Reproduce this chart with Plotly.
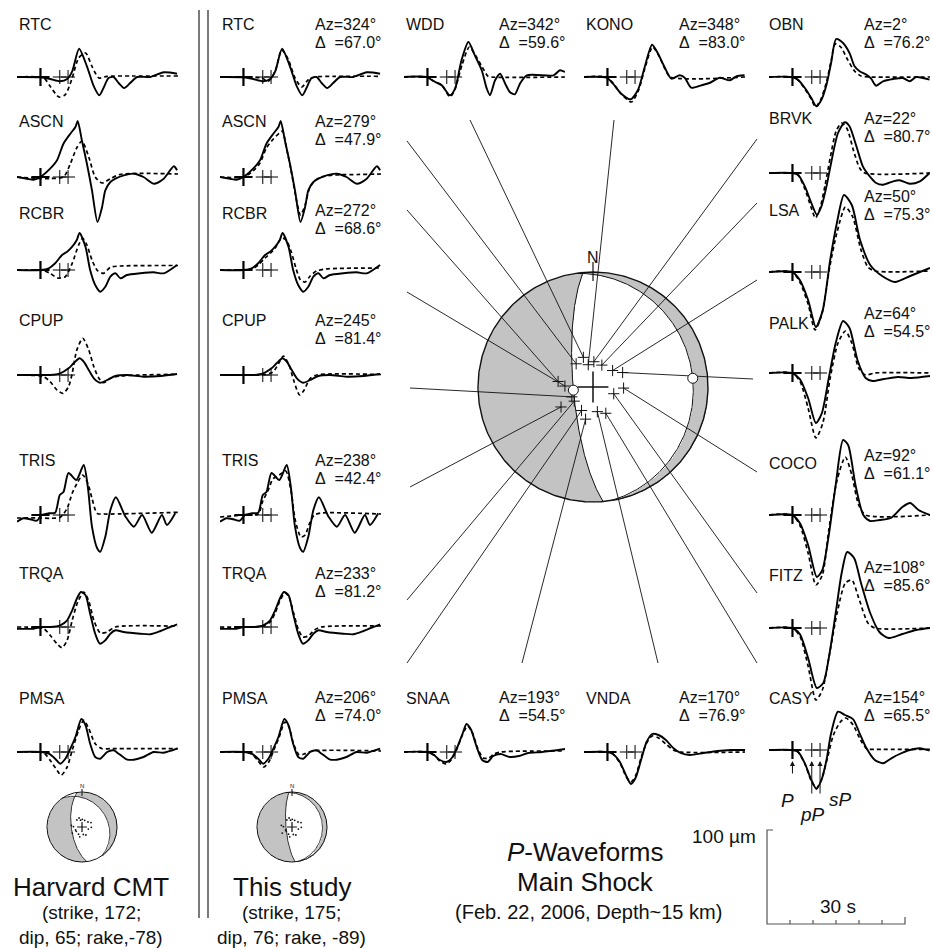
import numpy as np
import plotly.graph_objects as go

W, H = 933, 950
FONT = "Liberation Sans, Arial, Helvetica, sans-serif"
GRAY = "#c3c3c3"

# ---------------- data ----------------
STATIONS = ["RTC", "ASCN", "RCBR", "CPUP", "TRIS", "TRQA", "PMSA", "WDD", "KONO",
            "SNAA", "VNDA", "OBN", "BRVK", "LSA", "PALK", "COCO", "FITZ", "CASY"]
AZIMUTH = [324, 279, 272, 245, 238, 233, 206, 342, 348, 193, 170, 2, 22, 50, 64, 92, 108, 154]
DISTANCE = [67.0, 47.9, 68.6, 81.4, 42.4, 81.2, 74.0, 59.6, 83.0, 54.5, 76.9, 76.2, 80.7,
            75.3, 54.5, 61.1, 85.6, 65.5]
TAKEOFF = [20.3, 25.1, 19.9, 16.5, 26.8, 16.6, 18.5, 22.1, 16.1, 23.4, 17.7, 17.9, 16.7,
           18.1, 23.4, 21.7, 15.4, 20.7]

CMT_SDR = (172, 65, -78)
STUDY_SDR = (175, 76, -89)

T_P, T_PP, T_SP = 5.1, 9.3, 11.1     # s after window start
T_WINDOW = 35.0                       # s
SCALE_T, SCALE_TICK = 30, 5           # s
SCALE_AMP = 100                       # um

# waveforms: (time s, amplitude) knots
RTC_obs = [(0, 0), (5.1, -0.3), (7.2, -2), (9.4, -4.3), (10.9, -2), (12.0, 5.7), (13.5, 28.3), (15.2, 10.7),
           (16.7, -9.3), (17.9, -18.3), (18.8, -11), (19.9, -1), (21.0, 0), (22.1, -6), (23.3, -11),
           (24.6, -6), (26.1, 0), (29.0, 0), (31.9, 4.7), (34.8, 3.3)]
RTC_cmt = [(0, 0), (5.8, -1), (7.2, -9.3), (9.1, -20), (10.5, -17.7), (12.0, -1), (13.4, 19), (14.9, 24),
           (16.3, 10.7), (17.8, -1), (19.6, 0.7), (25, 1), (35, 1)]
RTC_syn = [(0, 0), (9.1, -1), (10.5, -4.3), (12.0, 5.7), (13.4, 27), (14.9, 17), (16.3, -1), (17.8, -10),
           (19.2, -2.7), (20.7, 0), (25, 0.7), (35, 0.7)]

ASCN_obs = [(0, 0), (2.2, -1.7), (3.6, -2.7), (5.1, 0), (7.2, 8.3), (8.7, 16.7), (10.1, 33.3), (11.6, 43.3),
            (12.7, 50), (13.2, 56), (14.1, 36.7), (15.2, 13.3), (16.3, -13.3), (17.5, -45), (18.5, -30),
            (19.2, -13.3), (20.3, -5), (21.4, -1.7), (23.2, 1.7), (25.4, 3.3), (27.5, 0), (29.7, -6.7),
            (31.9, -1.7), (34.1, 10.7), (34.8, 6.7)]
ASCN_cmt = [(0, 0), (5.1, -1.5), (7.2, -1.5), (10.1, 0), (11.6, 13.3), (12.9, 28.3), (14.1, 36), (15.6, 20),
            (17.0, 0), (18.5, -6), (20.3, -1.7), (22.5, 2.7), (35, 3)]
ASCN_syn = [(0, 0), (5.1, 0), (7.2, 6), (8.7, 14), (10.1, 29), (11.6, 38), (12.9, 44), (13.6, 46), (14.4, 30),
            (15.4, 8), (16.4, -18), (17.5, -38), (18.5, -28), (19.4, -12), (20.5, -4), (22, 0), (25, 2),
            (30, 2.5), (35, 3)]

RCBR_obs = [(0, 0), (5.1, 0), (6.9, 1.7), (8.3, 6.7), (9.8, 15), (10.9, 18.3), (12.0, 23.3), (13.0, 30),
            (13.6, 37), (14.9, 23), (15.9, 0), (17.0, -15), (18.1, -21.7), (19.2, -16.7), (20.3, -6.7),
            (21.4, -3.3), (22.5, -8.3), (23.9, -5), (26.8, -3.3), (29.7, -2.3), (31.9, -3.3), (34.8, 5)]
RCBR_cmt = [(0, 0), (5.8, -0.7), (7.2, -3.3), (8.8, -8), (10.5, -6.7), (12.0, 6.7), (13.4, 25), (14.3, 31.7),
            (15.2, 25), (16.3, 10), (17.5, -0.7), (18.8, -3.3), (20.3, 2.7), (22.5, 4), (35, 4.5)]
RCBR_syn = [(0, 0), (5.1, 0), (7.0, 1), (8.3, 5), (9.8, 12), (11.0, 17), (12.0, 22), (13.4, 32), (14.4, 30),
            (15.5, 18), (16.5, 2), (17.5, -10), (18.5, -12), (19.6, -6), (21, -1), (23, 1), (35, 2)]

CPUP_obs = [(0, 0), (5.1, 0), (7.2, 0), (9.4, 1.7), (11.2, 6.7), (12.3, 11.7), (13.6, 16.7), (14.5, 13.3),
            (15.6, 5), (16.7, -3.3), (18.1, -7.7), (19.6, -5), (21.4, -1), (23.9, 0), (27.5, -1.7),
            (31.2, -1), (34.8, 1)]
CPUP_cmt = [(0, 0), (5.8, -1.7), (7.2, -6.7), (8.7, -15), (10.0, -18.3), (11.2, -11.7), (12.0, 1.7),
            (13.0, 25), (14.3, 36.7), (15.6, 25), (16.7, 8.3), (17.8, -3.3), (18.8, -7.7), (20.3, -3.3),
            (22.5, -1), (34.8, 0.7)]
CPUP_syn = [(0, 0), (5.1, 0), (9.0, 0), (11.5, 3), (12.8, 12), (13.8, 19), (15.0, 10), (16.0, -5),
            (17.3, -20), (18.3, -15), (19.5, -4), (21, 0), (35, 0.5)]

TRIS_obs = [(0, -6.7), (1.4, -3.3), (2.9, -4.3), (4.3, -5.7), (5.4, 0), (6.9, 1.7), (8.3, 2.3), (9.3, 20),
            (10.1, 23), (11.2, 42), (12.9, 35), (14.5, 50), (15.4, 28), (16.3, -11.7), (17.4, -33),
            (18.1, -36.7), (19.2, -21.7), (20.3, 5), (21.5, 17.7), (23.6, -1.7), (25.4, -11.7), (27.2, 0),
            (29.3, -17.7), (31.5, 0), (32.6, -10), (34.4, 1.7)]
TRIS_cmt = [(0, -3), (5.1, -3), (7.2, -3.3), (9.4, -2.3), (10.9, 6.7), (12.0, 21.7), (13.2, 33), (14.3, 40),
            (15.4, 31.7), (16.3, 16.7), (17.4, 1.7), (18.8, 1), (35, 2.7)]
TRIS_syn = [(0, -2), (5.1, 0), (8.3, 1), (9.3, 14), (10.5, 25), (11.5, 36), (12.9, 40), (14.3, 44),
            (15.4, 25), (16.4, -6), (17.6, -22), (18.5, -20), (19.5, -8), (20.5, 0), (22, 2), (35, 1)]

TRQA_obs = [(0, -1.7), (3.6, -1.7), (5.1, 0), (7.2, 0), (9.4, 1.7), (10.9, 6.7), (12.0, 16.7), (13.0, 28.3),
            (13.9, 35), (14.9, 31.7), (15.9, 13.3), (17.0, -6.7), (18.0, -16.7), (19.2, -13.3),
            (20.3, -6.7), (21.4, -3.3), (23.2, -5), (26.8, -6.7), (29.0, -7.3), (31.2, -4), (33.3, 0),
            (34.8, 2.7)]
TRQA_cmt = [(0, 0), (5.8, -1.7), (7.2, -8.3), (8.7, -16.7), (9.8, -20.7), (10.9, -13.3), (12.0, 6.7),
            (13.2, 25), (14.5, 35), (15.6, 26), (16.7, 6.7), (18.1, -6), (19.6, -5), (21.4, 0), (35, 0.7)]
TRQA_syn = [(0, 0), (5.1, 0), (9.4, 1), (10.9, 5), (12.0, 14), (13.0, 26), (14.1, 34), (15.0, 30),
            (16.0, 14), (17.0, -2), (18.0, -10), (19.2, -9), (20.5, -3), (22, 0), (35, 1)]

PMSA_obs = [(0, 0), (5.1, 0), (6.9, -1.7), (8.3, -6.7), (9.4, -11.7), (10.5, -6.7), (11.6, 3.3), (12.7, 15),
            (14.0, 33), (14.9, 26.7), (15.9, 8.3), (17.0, -5), (18.1, -6.7), (19.6, 0), (21.0, 1.7),
            (22.1, -1.7), (23.8, -7.3), (25.4, -7.7), (27.5, -5), (29.7, 0), (31.9, -0.7), (34.8, 3.3)]
PMSA_cmt = [(0, 0), (5.8, -1), (7.2, -8.3), (8.7, -18.3), (9.6, -23.3), (10.9, -15), (12.0, 1.7),
            (13.4, 21.7), (14.5, 31.7), (15.6, 23.3), (17.0, 8.3), (18.5, 3.3), (20.3, 3.3), (35, 3.3)]
PMSA_syn = [(0, 0), (5.1, 0), (6.9, -2), (8.3, -9), (9.5, -15), (10.6, -10), (11.7, 2), (12.8, 14),
            (14.1, 30), (15.0, 25), (16.0, 8), (17.2, -3), (18.3, -2), (20, 1), (35, 1)]

WDD_obs = [(0, 0), (4.9, 0), (6.4, -4), (8.2, -8.3), (10.0, -18.3), (11.1, -11.7), (12.5, 16.7), (14.0, 35),
           (15.4, 21.7), (16.9, 6.7), (18.0, -11.7), (18.7, -18.3), (19.8, -3.3), (20.9, 3.3), (22.0, -6.7),
           (23.0, -15), (24.1, -17.3), (25.2, -6.7), (26.7, 1.7), (32.5, 1.7), (33.9, 6.7), (35, 5)]
WDD_syn = [(0, 0), (4.9, 0), (6.4, -4), (8.2, -8), (10.0, -20), (11.1, -12), (12.6, 12), (14.2, 30),
           (15.5, 22), (17.0, 10), (18.2, 1), (19.0, 0), (35, 0)]

KONO_obs = [(0, 0), (4.9, -0.7), (6.3, -6.7), (8.1, -16.7), (10.1, -22.3), (11.7, -13.3), (13.2, 10),
            (14.8, 32.3), (16.1, 23.3), (17.5, 10), (19.0, -1.7), (20.8, 1.7), (21.9, -0.7), (23.3, -10.7),
            (25.5, -8.3), (27.3, -6), (29.5, -0.7), (31.7, -3.3), (33.1, 0.7), (34.9, 1.7)]
KONO_syn = [(0, 0), (4.9, 0), (6.3, -6), (8.1, -17), (10.3, -25), (11.8, -14), (13.2, 8), (14.9, 30),
            (16.2, 22), (17.6, 8), (18.8, 0), (35, 0)]

SNAA_obs = [(0, 0), (5.1, 0), (6.5, -3), (7.8, -8), (9.2, -10), (10.4, -6), (11.6, 5), (12.7, 18), (13.6, 28),
            (14.6, 22), (15.8, 5), (17.0, -8), (18.2, -10), (19.4, -4), (21, -2), (23, -5), (25, -4),
            (27, -1), (30, 0), (35, 3)]
SNAA_syn = [(0, 0), (5.1, 0), (6.5, -3), (7.8, -9), (9.2, -12), (10.4, -7), (11.6, 4), (12.7, 17),
            (13.8, 26), (14.8, 20), (16.0, 4), (17.2, -6), (18.4, -6), (19.6, -2), (21, 0), (35, 1)]

VNDA_obs = [(0, 0), (5.1, 0), (6.3, -2), (7.8, -10), (9.2, -24), (10.2, -32), (11.2, -26), (12.4, -8),
            (13.6, 10), (14.8, 18), (16.2, 17), (17.8, 12), (19.4, 4), (21, -1), (23, -3), (26, -1),
            (29, 1), (32, 2), (35, 2)]
VNDA_syn = [(0, 0), (5.1, 0), (6.3, -2), (7.8, -11), (9.2, -25), (10.2, -30), (11.2, -24), (12.4, -6),
            (13.6, 9), (14.8, 16), (16.2, 14), (17.8, 8), (19.4, 2), (21, 0), (35, 0)]

OBN_obs = [(0, 0), (4.9, 0), (6.3, -2.7), (7.8, -11), (9.2, -21), (10.3, -29.3), (11.4, -22.7), (12.5, -7.7),
           (13.5, 14), (14.6, 38), (16.1, 34), (17.5, 24), (18.6, 10.7), (19.7, 5.7), (21.2, 2.3),
           (22.2, -1.7), (23.3, -8.7), (24.8, -4.3), (27.0, -2), (29.1, -1), (30.6, -4.3), (32.0, 0),
           (34.9, -2.7)]
OBN_syn = [(0, 0), (4.9, 0), (6.3, -3), (7.8, -12), (9.2, -22), (10.1, -30), (11.3, -22), (12.5, -5),
           (13.5, 16), (14.4, 33), (15.6, 30), (17.0, 18), (18.6, 6), (20, 1), (22, 0), (35, 0)]

BRVK_obs = [(0, 0), (4.9, 0), (6.3, -1.7), (7.8, -13.3), (9.2, -30), (10.4, -41.7), (11.4, -33.3),
            (12.5, -13.3), (13.5, 10), (15.0, 40), (16.5, 50.7), (17.5, 46.7), (19.0, 26.7), (20.4, 6.7),
            (21.9, -3.3), (23.3, -10), (24.8, -11.7), (27.0, -8.3), (28.4, -7.3), (30.6, -10.7),
            (32.8, -8.3), (34.9, 0)]
BRVK_syn = [(0, 0), (4.9, 0), (6.3, -2), (7.8, -16), (9.2, -35), (10.1, -45), (11.1, -35), (12.2, -12),
            (13.3, 15), (14.6, 42), (15.8, 50), (17.0, 44), (18.4, 22), (19.7, 5), (20.8, 0), (35, 0)]

LSA_obs = [(0, 0), (5.0, 0), (6.7, -8), (8.5, -28), (10.2, -55), (11.7, -38), (13.3, 12), (14.8, 50),
           (16.3, 77), (18.0, 67), (19.8, 32), (22.0, 7), (24.6, -4), (27.4, -10), (30.7, -4), (35, 4)]
LSA_syn = [(0, 0), (5.0, 0), (6.7, -10), (8.5, -32), (10.0, -58), (11.5, -42), (13.2, 5), (14.8, 40),
           (16.6, 65), (18.2, 55), (20.0, 22), (21.5, 5), (23, 1), (35, 1)]

PALK_obs = [(0, 0), (5.0, 0), (6.7, -6), (8.5, -25), (10.2, -50), (11.5, -40), (13.0, -5), (14.5, 30),
            (16.1, 52), (17.5, 45), (19.3, 12), (21.0, -5), (22.5, -8), (25, -6), (28, -4), (31, -5), (35, -3)]
PALK_syn = [(0, 0), (5.0, 0), (6.7, -8), (8.5, -35), (10.2, -65), (11.7, -50), (13.3, -5), (15.0, 30),
            (16.6, 42), (18.0, 30), (19.5, 5), (21, -2), (23, 0), (35, 0)]

COCO_obs = [(0, 0), (5.0, 0), (6.7, -8), (8.5, -30), (10.4, -62), (11.6, -55), (13.0, -20), (14.5, 30),
            (16.1, 75), (17.2, 70), (18.8, 30), (20.5, 0), (22, -6), (24, -5), (26.5, -3), (29, 8),
            (30.7, 12), (32.5, 5), (35, 0)]
COCO_syn = [(0, 0), (5.0, 0), (6.7, -10), (8.5, -38), (10.2, -70), (11.6, -60), (13.0, -15), (14.8, 35),
            (16.6, 58), (18.0, 40), (19.5, 10), (21, 0), (35, 0)]

FITZ_obs = [(0, 0), (5.0, 0), (6.7, -6), (8.5, -30), (10.4, -60), (11.8, -55), (13.0, -30), (14.5, 15),
            (15.8, 55), (17.0, 76), (18.5, 70), (20, 45), (22, 15), (24, -4), (26, -10), (29, -6),
            (32, -2), (35, 0)]
FITZ_syn = [(0, 0), (5.0, 0), (6.7, -8), (8.5, -38), (10.2, -72), (11.6, -62), (13.0, -30), (14.8, 15),
            (16.6, 45), (18.0, 48), (19.5, 30), (21.5, 5), (23, 0), (35, 0)]

CASY_obs = [(0, 0), (4.9, 0), (6.3, -1.7), (7.8, -13.3), (9.2, -30), (10.3, -39), (11.4, -30), (12.5, -10),
            (13.5, 16.7), (15.0, 38.3), (16.5, 35), (18.3, 30.7), (19.7, 16.7), (21.2, 1.7), (23.0, -10),
            (24.8, -13.3), (26.6, -8.3), (28.4, -4), (30.6, 0), (32.8, 1.7), (34.9, -0.7)]
CASY_syn = [(0, 0), (4.9, 0), (6.3, -2), (7.8, -14), (9.2, -31), (10.3, -38), (11.4, -30), (12.7, -8),
            (14.0, 15), (15.5, 28), (16.7, 32), (18.3, 25), (19.9, 10), (21.3, 1), (23, 0.7), (35, 0.7)]

OBS = {"RTC": RTC_obs, "ASCN": ASCN_obs, "RCBR": RCBR_obs, "CPUP": CPUP_obs, "TRIS": TRIS_obs,
       "TRQA": TRQA_obs, "PMSA": PMSA_obs, "WDD": WDD_obs, "KONO": KONO_obs, "SNAA": SNAA_obs,
       "VNDA": VNDA_obs, "OBN": OBN_obs, "BRVK": BRVK_obs, "LSA": LSA_obs, "PALK": PALK_obs,
       "COCO": COCO_obs, "FITZ": FITZ_obs, "CASY": CASY_obs}
SYN = {"RTC": RTC_syn, "ASCN": ASCN_syn, "RCBR": RCBR_syn, "CPUP": CPUP_syn, "TRIS": TRIS_syn,
       "TRQA": TRQA_syn, "PMSA": PMSA_syn, "WDD": WDD_syn, "KONO": KONO_syn, "SNAA": SNAA_syn,
       "VNDA": VNDA_syn, "OBN": OBN_syn, "BRVK": BRVK_syn, "LSA": LSA_syn, "PALK": PALK_syn,
       "COCO": COCO_syn, "FITZ": FITZ_syn, "CASY": CASY_syn}
CMT = {"RTC": RTC_cmt, "ASCN": ASCN_cmt, "RCBR": RCBR_cmt, "CPUP": CPUP_cmt, "TRIS": TRIS_cmt,
       "TRQA": TRQA_cmt, "PMSA": PMSA_cmt}
AZ = dict(zip(STATIONS, AZIMUTH))
DIST = dict(zip(STATIONS, DISTANCE))
TOA = dict(zip(STATIONS, TAKEOFF))

# ---------------- layout (pixels) ----------------
PX_PER_S = 4.6
LEFT_ROWS = ["RTC", "ASCN", "RCBR", "CPUP", "TRIS", "TRQA", "PMSA"]
LEFT_BASE = [77, 177, 270, 375, 515, 627, 752]
LEFT_LABEL_Y = [24, 121, 213, 320, 460, 573, 698]
STUDY_AZ_Y = [24, 121, 210, 320, 460, 573, 697]
RIGHT_ROWS = ["OBN", "BRVK", "LSA", "PALK", "COCO", "FITZ", "CASY"]
RIGHT_BASE = [77, 173, 272, 373, 515, 628, 750]
RIGHT_LABEL_Y = [24, 118, 210, 323, 463, 575, 698]
RIGHT_AZ_Y = [24, 118, 196, 313, 455, 567, 697]
X_CMT, X_STUDY, X_C1, X_C2, X_RIGHT = 17, 220, 404, 584, 769
AZX_STUDY, AZX_C1, AZX_C2, AZX_RIGHT = 313, 497, 677, 862
BALL = (593, 387, 115)
BALL_CMT = (82, 827, 35)
BALL_STUDY = (292, 827, 35)
RAY_END = {"PMSA": (407, 663), "TRQA": (407, 600), "TRIS": (410, 487), "CPUP": (410, 388),
           "RCBR": (407, 292), "ASCN": (407, 210), "RTC": (407, 141), "WDD": (470, 120),
           "KONO": (614, 120), "OBN": (757, 139), "BRVK": (757, 203), "LSA": (757, 280),
           "PALK": (753, 379), "COCO": (757, 472), "FITZ": (757, 593), "CASY": (757, 663),
           "VNDA": (658, 663), "SNAA": (522, 663)}

# panels: station, x0, baseline, synthetic, label (x,y), az text (x,y) or None
panels = []
for s, b, ly, ay in zip(LEFT_ROWS, LEFT_BASE, LEFT_LABEL_Y, STUDY_AZ_Y):
    panels.append((s, X_CMT, b, CMT[s], (X_CMT, ly), None))
    panels.append((s, X_STUDY, b, SYN[s], (X_STUDY, ly), (AZX_STUDY, ay)))
for s, x0, b, ly, ax in [("WDD", X_C1, 77, 24, AZX_C1), ("KONO", X_C2, 77, 24, AZX_C2),
                         ("SNAA", X_C1, 752, 698, AZX_C1), ("VNDA", X_C2, 752, 698, AZX_C2)]:
    panels.append((s, x0, b, SYN[s], (x0, ly), (ax, ly if ly == 24 else 697)))
for s, b, ly, ay in zip(RIGHT_ROWS, RIGHT_BASE, RIGHT_LABEL_Y, RIGHT_AZ_Y):
    panels.append((s, X_RIGHT, b, SYN[s], (X_RIGHT - 2, ly), (AZX_RIGHT, ay)))

fig = go.Figure()
axes = {
    "xaxis": dict(domain=[0, 1], range=[0, W], visible=False, fixedrange=True),
    "yaxis": dict(domain=[0, 1], range=[H, 0], visible=False, fixedrange=True),
}
ann = []


def txt(x, y, s, size=16, xanchor="left"):
    ann.append(dict(x=x, y=y, xref="x", yref="y", text=s, showarrow=False, xanchor=xanchor,
                    yanchor="middle", font=dict(family=FONT, size=size, color="#111111")))


for k, (s, x0, base, syn, lab, azpos) in enumerate(panels):
    i = k + 2
    top, bot = max(base - 95, 0), min(base + 95, H)
    axes[f"xaxis{i}"] = dict(domain=[x0 / W, (x0 + T_WINDOW * PX_PER_S) / W], range=[0, T_WINDOW],
                             visible=False, anchor=f"y{i}", fixedrange=True)
    axes[f"yaxis{i}"] = dict(domain=[1 - bot / H, 1 - top / H], range=[-(bot - base), base - top],
                             visible=False, anchor=f"x{i}", fixedrange=True)
    for knots, dash, wdt in [(syn, "4px,3px", 1.7), (OBS[s], "solid", 1.9)]:
        fig.add_trace(go.Scatter(x=[p[0] for p in knots], y=[p[1] for p in knots], mode="lines",
                                 line=dict(color="black", width=wdt, dash=dash, shape="spline", smoothing=0.7),
                                 xaxis=f"x{i}", yaxis=f"y{i}", hoverinfo="skip", showlegend=False))
    fig.add_trace(go.Scatter(x=[T_P], y=[0], mode="markers", xaxis=f"x{i}", yaxis=f"y{i}",
                             marker=dict(symbol="cross-thin", size=13, line=dict(color="black", width=2.2)),
                             hoverinfo="skip", showlegend=False))
    fig.add_trace(go.Scatter(x=[T_PP, T_SP], y=[0, 0], mode="markers", xaxis=f"x{i}", yaxis=f"y{i}",
                             marker=dict(symbol="cross-thin", size=10, line=dict(color="black", width=1)),
                             hoverinfo="skip", showlegend=False))
    txt(lab[0], lab[1], s)
    if azpos is not None:
        txt(azpos[0], azpos[1], f"Az={AZ[s]}°")
        txt(azpos[0], azpos[1] + 18, f"Δ\u00a0\u00a0={DIST[s]:.1f}°")


# ---------------- focal mechanisms ----------------
def sdr_vectors(strike, dip, rake):
    f, d, l = np.radians([strike, dip, rake])
    n = np.array([-np.sin(d) * np.sin(f), np.sin(d) * np.cos(f), -np.cos(d)])
    sl = np.array([np.cos(l) * np.cos(f) + np.sin(l) * np.cos(d) * np.sin(f),
                   np.cos(l) * np.sin(f) - np.sin(l) * np.cos(d) * np.cos(f),
                   -np.sin(l) * np.sin(d)])
    return n, sl


def proj(v):
    v = np.asarray(v, float)
    v = v / np.linalg.norm(v)
    if v[2] < 0:
        v = -v
    th = np.arccos(np.clip(v[2], -1, 1))
    r = np.sqrt(2) * np.sin(th / 2)
    az = np.arctan2(v[1], v[0])
    return r * np.sin(az), r * np.cos(az)


def proj_station(az, toa):
    r = np.sqrt(2) * np.sin(np.radians(toa) / 2)
    return r * np.sin(np.radians(az)), r * np.cos(np.radians(az))


def plane_arc(m):
    m = m / np.linalg.norm(m)
    e1 = np.cross(m, [0, 0, 1.0])
    e1 /= np.linalg.norm(e1)
    e2 = np.cross(m, e1)
    if e2[2] < 0:
        e2 = -e2
    pts = [proj(np.cos(t) * e1 + np.sin(t) * e2) for t in np.linspace(0, np.pi, 241)]
    return np.array(pts)


def draw_ball(ball, sdr, lw_c, lw_p):
    cx, cy, R = ball
    n, sl = sdr_vectors(*sdr)
    g = np.arange(-R, R + 1)
    U, N = np.meshgrid(g / R, -g / R)
    r = np.hypot(U, N)
    th = 2 * np.arcsin(np.clip(r / np.sqrt(2), 0, 1))
    az = np.arctan2(U, N)
    vN, vE, vD = np.sin(th) * np.cos(az), np.sin(th) * np.sin(az), np.cos(th)
    amp = (vN * n[0] + vE * n[1] + vD * n[2]) * (vN * sl[0] + vE * sl[1] + vD * sl[2])
    z = np.where((r <= 1.0) & (amp > 0), 1.0, np.nan)
    zl = [[None if np.isnan(v) else 1 for v in row] for row in z]
    fig.add_trace(go.Heatmap(x=cx + g, y=cy + g, z=zl, colorscale=[[0, GRAY], [1, GRAY]], zmin=0, zmax=1,
                             showscale=False, hoverinfo="skip", xaxis="x", yaxis="y"))
    for m in (n, sl):
        a = plane_arc(m)
        fig.add_trace(go.Scatter(x=cx + R * a[:, 0], y=cy - R * a[:, 1], mode="lines",
                                 line=dict(color="#111", width=lw_p), hoverinfo="skip", showlegend=False,
                                 xaxis="x", yaxis="y"))
    t = np.linspace(0, 2 * np.pi, 361)
    fig.add_trace(go.Scatter(x=cx + R * np.sin(t), y=cy - R * np.cos(t), mode="lines",
                             line=dict(color="#111", width=lw_c), hoverinfo="skip", showlegend=False,
                             xaxis="x", yaxis="y"))
    return n, sl


cx, cy, R = BALL
n_s, s_s = draw_ball(BALL, STUDY_SDR, 1.4, 1.0)
# rays to waveform panels
rx, ry, px, py = [], [], [], []
for s in STATIONS:
    e, nn = proj_station(AZ[s], TOA[s])
    x1, y1 = cx + R * e, cy - R * nn
    px.append(x1); py.append(y1)
    x2, y2 = RAY_END[s]
    rx += [x1, x2, None]; ry += [y1, y2, None]
fig.add_trace(go.Scatter(x=rx, y=ry, mode="lines", line=dict(color="#111", width=0.9),
                         hoverinfo="skip", showlegend=False, xaxis="x", yaxis="y"))
fig.add_trace(go.Scatter(x=px, y=py, mode="markers", hoverinfo="skip", showlegend=False, xaxis="x", yaxis="y",
                         marker=dict(symbol="cross-thin", size=8, line=dict(color="#111", width=1))))
fig.add_trace(go.Scatter(x=[cx], y=[cy], mode="markers", hoverinfo="skip", showlegend=False, xaxis="x", yaxis="y",
                         marker=dict(symbol="cross-thin", size=22, line=dict(color="#111", width=1.5))))
pole = [proj(v) for v in (n_s, s_s)]
fig.add_trace(go.Scatter(x=[cx + R * p[0] for p in pole], y=[cy - R * p[1] for p in pole], mode="markers",
                         hoverinfo="skip", showlegend=False, xaxis="x", yaxis="y",
                         marker=dict(symbol="circle", size=10, color="white", line=dict(color="#111", width=1))))
fig.add_trace(go.Scatter(x=[cx, cx], y=[cy - R - 10, cy - R + 9], mode="lines", line=dict(color="#111", width=1.2),
                         hoverinfo="skip", showlegend=False, xaxis="x", yaxis="y"))
txt(cx, cy - R - 15, "N", 16, "center")

for ball, sdr in [(BALL_CMT, CMT_SDR), (BALL_STUDY, STUDY_SDR)]:
    bx, by, br = ball
    draw_ball(ball, sdr, 1.0, 0.8)
    sx, sy = [], []
    for s in STATIONS:
        e, nn = proj_station(AZ[s], TOA[s])
        sx.append(bx + br * e); sy.append(by - br * nn)
    fig.add_trace(go.Scatter(x=sx, y=sy, mode="markers", hoverinfo="skip", showlegend=False, xaxis="x", yaxis="y",
                             marker=dict(symbol="circle", size=1.8, color="#111")))
    fig.add_trace(go.Scatter(x=[bx], y=[by], mode="markers", hoverinfo="skip", showlegend=False, xaxis="x",
                             yaxis="y", marker=dict(symbol="cross-thin", size=7, line=dict(color="#111", width=1.2))))
    fig.add_trace(go.Scatter(x=[bx, bx], y=[by - br - 3, by - br + 4], mode="lines",
                             line=dict(color="#111", width=1), hoverinfo="skip", showlegend=False,
                             xaxis="x", yaxis="y"))
    txt(bx, by - br - 6, "N", 6, "center")

# ---------------- separators, scale bar, arrows ----------------
for xv in (199, 208):
    fig.add_trace(go.Scatter(x=[xv, xv], y=[10, 918], mode="lines", line=dict(color="#333", width=1.3),
                             hoverinfo="skip", showlegend=False, xaxis="x", yaxis="y"))

SB_X, SB_Y, SB_H = 767, 924, 94
sbx = [SB_X + 6, SB_X, SB_X, SB_X + SCALE_T * PX_PER_S, SB_X + SCALE_T * PX_PER_S]
sby = [SB_Y - SB_H, SB_Y - SB_H, SB_Y, SB_Y, SB_Y - 7]
tx, ty = list(sbx), list(sby)
for tk in range(SCALE_TICK, SCALE_T, SCALE_TICK):
    xx = SB_X + tk * PX_PER_S
    tx += [None, xx, xx]; ty += [None, SB_Y, SB_Y - 4]
fig.add_trace(go.Scatter(x=tx, y=ty, mode="lines", line=dict(color="#555", width=1.2),
                         hoverinfo="skip", showlegend=False, xaxis="x", yaxis="y"))
txt(758, SB_Y - SB_H + 6, f"{SCALE_AMP} µm", 19, "right")
txt(SB_X + 0.5 * SCALE_T * PX_PER_S + 2, 906, f"{SCALE_T} s", 19, "center")

casy_base = RIGHT_BASE[RIGHT_ROWS.index("CASY")]
for tph, y0 in [(T_P, casy_base + 25), (T_PP, casy_base + 45), (T_SP, casy_base + 45)]:
    xx = X_RIGHT + tph * PX_PER_S
    ann.append(dict(x=xx, y=casy_base + 11, ax=xx, ay=y0, xref="x", yref="y", axref="x", ayref="y",
                    text="", showarrow=True, arrowhead=2, arrowsize=1, arrowwidth=1, arrowcolor="#111",
                    standoff=0))
txt(787, 800, "<i>P</i>", 19, "center")
txt(812, 814, "<i>pP</i>", 19, "center")
txt(840, 799, "<i>sP</i>", 19, "center")

# ---------------- captions ----------------
txt(585, 852, "<i>P</i>-Waveforms", 26, "center")
txt(585, 882, "Main Shock", 26, "center")
txt(588, 912, "(Feb. 22, 2006, Depth~15 km)", 20, "center")
txt(91, 887, "Harvard CMT", 26, "center")
txt(91, 912, f"(strike, {CMT_SDR[0]};", 19, "center")
txt(91, 937, f"dip, {CMT_SDR[1]}; rake,{CMT_SDR[2]})", 19, "center")
txt(292, 887, "This study", 26, "center")
txt(291, 912, f"(strike, {STUDY_SDR[0]};", 19, "center")
txt(291, 937, f"dip, {STUDY_SDR[1]}; rake, {STUDY_SDR[2]})", 19, "center")

fig.update_layout(width=W, height=H, margin=dict(l=0, r=0, t=0, b=0), autosize=False,
                  paper_bgcolor="white", plot_bgcolor="rgba(0,0,0,0)", showlegend=False,
                  annotations=ann, **axes)
fig.write_html("out.html")
